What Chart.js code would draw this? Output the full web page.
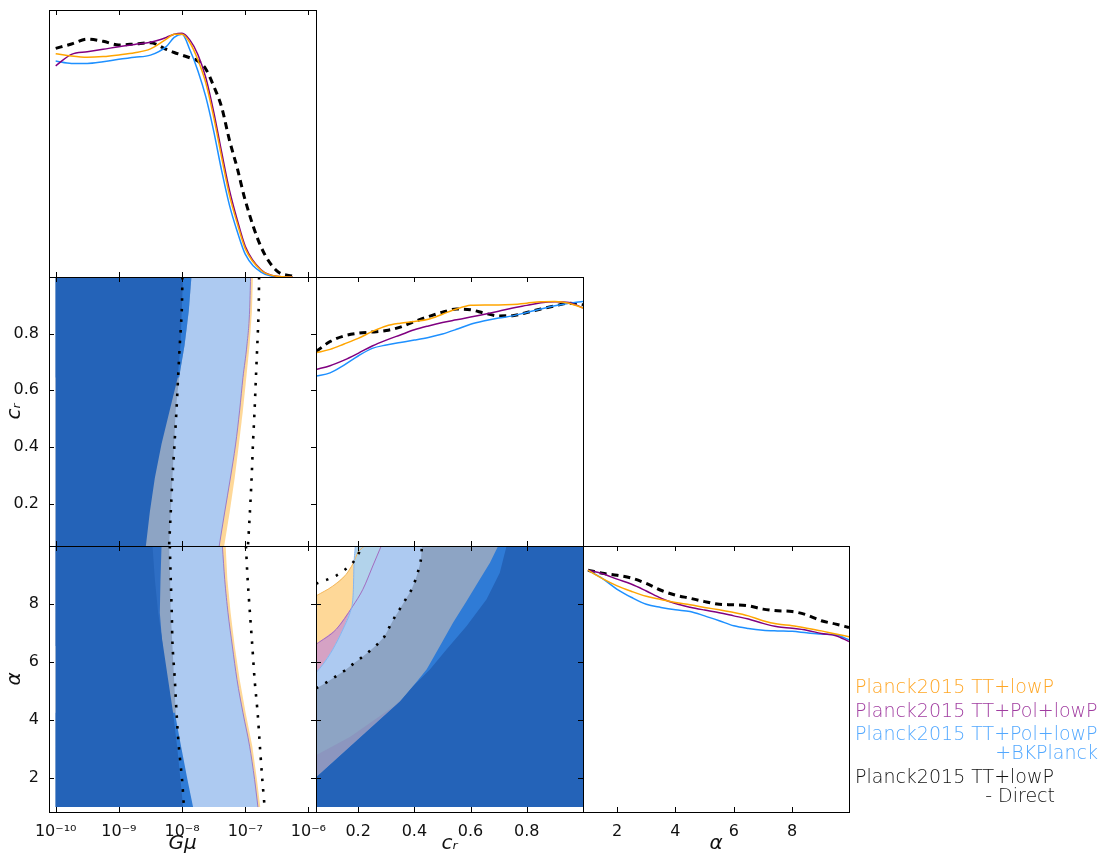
<!DOCTYPE html>
<html>
<head>
<meta charset="utf-8">
<script src="https://cdn.jsdelivr.net/npm/chart.js@4.4.1/dist/chart.umd.min.js"></script>
<style>
body { margin: 0; background: #fff; }
#wrap { position: relative; width: 1102px; height: 854px; overflow: hidden; }
#wrap canvas { position: absolute; }
.leg { position: absolute; font-family: "DejaVu Sans", sans-serif; font-weight: 200; font-size: 19px; line-height: 22px; white-space: nowrap; }
</style>
</head>
<body>
<div id="wrap">
  <canvas id="p11"></canvas>
  <canvas id="p21"></canvas>
  <canvas id="p31"></canvas>
  <canvas id="p22"></canvas>
  <canvas id="p32"></canvas>
  <canvas id="p33"></canvas>
  <div class="leg" style="left:855px;top:675px;color:#ffa624">Planck2015 TT+lowP</div>
  <div class="leg" style="left:855px;top:699px;color:#a03ca0">Planck2015 TT+Pol+lowP</div>
  <div class="leg" style="left:855px;top:722px;color:#52a8ff">Planck2015 TT+Pol+lowP</div>
  <div class="leg" style="right:4px;top:741px;color:#52a8ff">+BKPlanck</div>
  <div class="leg" style="left:855px;top:765px;color:#111">Planck2015 TT+lowP</div>
  <div class="leg" style="right:47px;top:784px;color:#111">- Direct</div>
</div>
<script>
// ---- tick labels ----
const gmuTicks = [-10, -9, -8, -7, -6];
const gmuTickLabels = ['10⁻¹⁰', '10⁻⁹', '10⁻⁸', '10⁻⁷', '10⁻⁶'];
const crTicks = [0.2, 0.4, 0.6, 0.8];
const alphaTicks = [2, 4, 6, 8];

// ---- 1D marginals (log10 Gmu) ----
const gmuGrid = [-10, -9.75, -9.5, -9.25, -9, -8.75, -8.5, -8.25, -8.125, -8, -7.875, -7.75, -7.625, -7.5, -7.375, -7.25, -7.125, -7, -6.75, -6.5, -6.25];
const gmuTT = [0.92, 0.91, 0.905, 0.908, 0.915, 0.924, 0.94, 0.98, 1.0, 1.0, 0.965, 0.895, 0.80, 0.66, 0.495, 0.337, 0.22, 0.117, 0.028, 0.003, 0];
const gmuPol = [0.87, 0.917, 0.928, 0.938, 0.949, 0.958, 0.967, 0.987, 1.0, 1.004, 0.976, 0.917, 0.822, 0.681, 0.516, 0.358, 0.234, 0.127, 0.03, 0.003, 0];
const gmuBK = [0.89, 0.88, 0.88, 0.887, 0.897, 0.905, 0.914, 0.949, 0.987, 1.0, 0.935, 0.85, 0.743, 0.602, 0.44, 0.296, 0.186, 0.094, 0.02, 0.001, 0];
const gmuDirect = [0.942, 0.96, 0.98, 0.971, 0.956, 0.96, 0.965, 0.938, 0.925, 0.914, 0.903, 0.89, 0.857, 0.787, 0.701, 0.564, 0.447, 0.316, 0.124, 0.025, 0.003];

// ---- 1D marginals (c_r) ----
const crGrid = [0.05, 0.1, 0.15, 0.2, 0.25, 0.3, 0.35, 0.4, 0.45, 0.5, 0.55, 0.6, 0.65, 0.7, 0.75, 0.8, 0.85, 0.9, 0.95, 1.0];
const crTT = [0.790, 0.804, 0.826, 0.849, 0.877, 0.900, 0.911, 0.918, 0.927, 0.948, 0.969, 0.984, 0.986, 0.986, 0.988, 0.993, 0.999, 1.0, 0.993, 0.973];
const crPol = [0.722, 0.737, 0.760, 0.788, 0.818, 0.842, 0.863, 0.884, 0.900, 0.914, 0.925, 0.936, 0.948, 0.960, 0.973, 0.984, 0.995, 0.999, 0.996, 0.973];
const crBK = [0.695, 0.708, 0.740, 0.777, 0.808, 0.822, 0.832, 0.842, 0.853, 0.867, 0.886, 0.907, 0.921, 0.932, 0.941, 0.955, 0.969, 0.982, 0.993, 1.0];
const crDirect = [0.795, 0.836, 0.859, 0.870, 0.875, 0.881, 0.895, 0.918, 0.938, 0.956, 0.969, 0.966, 0.952, 0.941, 0.942, 0.955, 0.969, 0.982, 0.993, 0.986];

// ---- 1D marginals (alpha) ----
const alphaGrid = [1, 1.5, 2, 2.5, 3, 3.5, 4, 4.5, 5, 5.5, 6, 6.5, 7, 7.5, 8, 8.5, 9, 9.5, 9.95];
const alphaTT = [1.0, 0.965, 0.935, 0.912, 0.892, 0.879, 0.866, 0.857, 0.846, 0.836, 0.825, 0.811, 0.791, 0.777, 0.770, 0.760, 0.749, 0.736, 0.725];
const alphaPol = [1.0, 0.985, 0.963, 0.942, 0.914, 0.884, 0.862, 0.847, 0.835, 0.824, 0.811, 0.798, 0.780, 0.766, 0.760, 0.752, 0.738, 0.729, 0.705];
const alphaBK = [1.0, 0.965, 0.921, 0.887, 0.859, 0.846, 0.836, 0.829, 0.811, 0.791, 0.770, 0.759, 0.752, 0.749, 0.747, 0.741, 0.736, 0.733, 0.712];
const alphaDirect = [1.0, 0.987, 0.979, 0.967, 0.945, 0.917, 0.897, 0.884, 0.870, 0.859, 0.857, 0.853, 0.839, 0.832, 0.829, 0.815, 0.791, 0.777, 0.763];

// ---- Gmu vs c_r contours: log10 Gmu of each edge at crLevels ----
const crLevels = [1.0, 0.88, 0.76, 0.645, 0.53, 0.41, 0.29, 0.17, 0.05];
const gcTT95 = [-6.878, -6.894, -6.931, -6.983, -7.036, -7.100, -7.167, -7.246, -7.333];
const gcBK95 = [-6.915, -6.931, -6.973, -7.036, -7.088, -7.152, -7.235, -7.325, -7.412];
const gcMix = [-7.852, -7.894, -7.960, -8.047, -8.100, -8.126, -8.152, -8.179, -8.205];
const gcBK68 = [-7.852, -7.894, -7.960, -8.047];
const gcTT68 = [-7.984, -8.005, -8.025, -8.068, -8.194, -8.325, -8.431, -8.510, -8.573];
const gcDir68 = [-7.994, -8.005, -8.036, -8.063, -8.088, -8.120, -8.152, -8.179, -8.205];
const gcDir95 = [-6.781, -6.788, -6.809, -6.831, -6.852, -6.878, -6.899, -6.926, -6.957];

// ---- Gmu vs alpha contours ----
const alphaLevels = [10, 8.85, 7.70, 6.55, 5.40, 4.25, 3.10, 1.95, 1.0];
const gaTT95 = [-7.310, -7.283, -7.231, -7.167, -7.088, -6.994, -6.888, -6.815, -6.762];
const gaBK95 = [-7.362, -7.325, -7.273, -7.204, -7.131, -7.036, -6.931, -6.852, -6.799];
const gaMix = [-8.205, -8.189, -8.179, -8.152, -8.126, -8.100, -8.073, -8.021, -7.980];
const gaMid = [-8.325, -8.341, -8.352, -8.310];          // top 4 levels
const gaBK68 = [-8.115, -8.016, -7.915, -7.826];         // bottom 4 levels
const gaTT68 = [-8.468, -8.431, -8.379, -8.300, -8.221, -8.142, -8.079, -8.025, -7.984];
const gaDir68 = [-8.194, -8.179, -8.163, -8.150, -8.115, -8.087, -8.052, -8.000, -7.970];
const gaDir95 = [-6.989, -6.962, -6.926, -6.888, -6.852, -6.804, -6.768, -6.730, -6.693];

// ---- c_r vs alpha contours (c_r, alpha pairs) ----
const caTT95_cr = [0.05, 0.110, 0.157, 0.183, 0.199, 0.222];
const caTT95_a = [8.28, 8.62, 9.02, 9.42, 9.77, 10];
const caPol95_cr = [0.05, 0.122, 0.181, 0.217, 0.252, 0.282];
const caPol95_a = [6.61, 7.13, 7.93, 8.51, 9.31, 10];
const caBK95_cr = [0.05, 0.075, 0.110, 0.146, 0.175, 0.179, 0.183, 0.185, 0.190];
const caBK95_a = [5.63, 5.92, 6.44, 7.13, 7.82, 7.99, 8.51, 9.31, 10];
const caJoint_cr = [0.05, 0.075, 0.110, 0.146, 0.177, 0.217, 0.252, 0.282];
const caJoint_a = [5.63, 5.92, 6.44, 7.13, 7.88, 8.51, 9.31, 10];
const caDir68_cr = [0.05, 0.086, 0.118, 0.150, 0.180, 0.210, 0.240, 0.268, 0.293, 0.311, 0.329, 0.349, 0.369, 0.388, 0.403, 0.414, 0.423, 0.426, 0.427];
const caDir68_a = [5.09, 5.29, 5.49, 5.69, 5.92, 6.14, 6.37, 6.61, 6.87, 7.20, 7.53, 7.84, 8.16, 8.46, 8.81, 9.15, 9.52, 9.86, 10];
const caSlate_cr = [0.05, 0.172, 0.325, 0.42];
const caSlate_a = [2.79, 3.42, 4.46, 5.27];
const caMix68_cr = [0.05, 0.349, 0.396, 0.444, 0.491, 0.538, 0.586, 0.633, 0.669, 0.698];
const caMix68_a = [2.02, 4.64, 5.17, 5.75, 6.55, 7.36, 8.10, 8.85, 9.42, 10];
const caTT68_cr = [0.05, 0.349, 0.396, 0.432, 0.456, 0.515, 0.586, 0.657, 0.704, 0.728];
const caTT68_a = [2.02, 4.64, 5.17, 5.52, 5.75, 6.44, 7.24, 8.16, 9.08, 10];
const caDir95_cr = [0.05, 0.092, 0.124, 0.155, 0.183, 0.203, 0.211];
const caDir95_a = [8.70, 8.85, 8.99, 9.20, 9.45, 9.77, 10];

// sampled ranges
const GMU_LO = -10, CR_LO = 0.05, CR_HI = 1.0, A_LO = 1.0, A_HI = 10;

// colours
const cOrange = '#ffa500', cPurple = '#800080', cBlue = '#1e90ff';
const fDark = '#2463b8', fBright = '#2f7bd6', fMid = '#2e6ec4', fGray = '#8da4c4', fSlate = '#8c96bf';
const fLight = '#adcaf1', fTeal = '#b2d3eb', fOrange = '#fed898', fPink = '#d5a2c4';

// ---------------------------------------------------------------
const inTicks = {
    id: 'inTicks',
    afterDraw(chart, args, opts) {
        const {ctx, chartArea: a, scales} = chart;
        ctx.save();
        ctx.strokeStyle = '#000';
        ctx.lineWidth = 1;
        ctx.beginPath();
        (opts.x || []).forEach(v => {
            const p = Math.round(scales.x.getPixelForValue(v)) + 0.5;
            ctx.moveTo(p, a.bottom); ctx.lineTo(p, a.bottom - 5);
            ctx.moveTo(p, a.top); ctx.lineTo(p, a.top + 5);
        });
        (opts.y || []).forEach(v => {
            const p = Math.round(scales.y.getPixelForValue(v)) + 0.5;
            ctx.moveTo(a.left, p); ctx.lineTo(a.left + 5, p);
            ctx.moveTo(a.right, p); ctx.lineTo(a.right - 5, p);
        });
        ctx.stroke();
        ctx.strokeRect(Math.round(a.left) + 0.5, Math.round(a.top) + 0.5, Math.round(a.width), Math.round(a.height));
        ctx.restore();
    }
};

const tickFont = { family: 'DejaVu Sans', size: 16 };
const titleFont = { family: 'DejaVu Sans', size: 20, style: 'italic', lineHeight: 1.0 };

function axis(min, max, ticks, labelFn, title) {
    const o = { type: 'linear', min: min, max: max, grid: { display: false }, border: { display: false } };
    if (labelFn) {
        o.afterBuildTicks = s => { s.ticks = ticks.map(v => ({ value: v })); };
        o.ticks = { display: true, color: '#111', font: tickFont, padding: 2, maxRotation: 0, autoSkip: false, callback: labelFn };
    } else {
        o.ticks = { display: false };
    }
    if (title) {
        o.title = { display: true, text: title, color: '#111', font: titleFont, padding: { top: 5, bottom: 0 } };
    }
    return o;
}

const gmuLabel = v => gmuTickLabels[gmuTicks.indexOf(v)];
const numLabel = v => (Number.isInteger(v) ? String(v) : v.toFixed(1));

function pts(xs, ys) { return xs.map((x, i) => ({ x: x, y: ys[i] })); }
function leftOf(edge, levels) {
    const p = pts(edge, levels);
    p.push({ x: GMU_LO, y: levels[levels.length - 1] }, { x: GMU_LO, y: levels[0] });
    return p;
}
function rightOf(crs, as, toTop) {
    const p = pts(crs, as);
    if (toTop) p.push({ x: CR_HI, y: A_HI });
    p.push({ x: CR_HI, y: A_LO }, { x: CR_LO, y: A_LO });
    return p;
}
function area(data, color) {
    return { data: data, fill: 'shape', backgroundColor: color, borderColor: 'rgba(0,0,0,0)', borderWidth: 0, pointRadius: 0, tension: 0 };
}
function curve(data, color, width, dash) {
    return { data: data, fill: false, borderColor: color, borderWidth: width, borderDash: dash || [], borderCapStyle: 'butt',
        pointRadius: 0, cubicInterpolationMode: 'monotone' };
}
function dotted(data) {
    return { data: data, fill: false, borderColor: '#000', borderWidth: 2.6, borderDash: [2.6, 8], borderCapStyle: 'butt', pointRadius: 0, tension: 0.3 };
}

function makeChart(id, pos, pad, xs, ys, datasets, tickVals) {
    const cv = document.getElementById(id);
    cv.width = pos[2]; cv.height = pos[3];
    cv.style.left = pos[0] + 'px'; cv.style.top = pos[1] + 'px';
    datasets.forEach((d, i) => { d.order = datasets.length - i; });
    xs.afterFit = s => { s.height = pad.bottom; };
    ys.afterFit = s => { s.width = pad.left; };
    ys.position = 'left';
    xs.position = 'bottom';
    return new Chart(cv, {
        type: 'line',
        data: { datasets: datasets },
        options: {
            responsive: false, animation: false, devicePixelRatio: 1,
            layout: { padding: { left: 0, top: pad.top, right: pad.right, bottom: 0 } },
            plugins: { legend: { display: false }, tooltip: { enabled: false }, inTicks: tickVals },
            scales: { x: xs, y: ys }
        },
        plugins: [inTicks]
    });
}

// Gmu marginal
makeChart('p11', [0, 0, 336, 297], { left: 49, top: 10, right: 20, bottom: 20 },
    axis(-10.106, -5.88), axis(0, 1.1),
    [curve(pts(gmuGrid, gmuTT), cOrange, 1.5), curve(pts(gmuGrid, gmuPol), cPurple, 1.5),
     curve(pts(gmuGrid, gmuBK), cBlue, 1.5), curve(pts(gmuGrid, gmuDirect), '#000', 3, [7, 5])].reverse(),
    { x: gmuTicks });

// Gmu vs c_r
makeChart('p21', [0, 257, 336, 309], { left: 49, top: 20, right: 20, bottom: 20 },
    axis(-10.106, -5.88), axis(0.05, 1.0, crTicks, numLabel, 'cᵣ'),
    [area(leftOf(gcTT95, crLevels), fOrange), area(leftOf(gcBK95, crLevels), fLight),
     area(leftOf(gcMix, crLevels), fGray), area(leftOf(gcBK68, crLevels.slice(0, 4)), fBright),
     area(leftOf(gcTT68, crLevels), fDark),
     curve(pts(gcBK95, crLevels), '#9b7cc8', 1),
     dotted(pts(gcDir68, crLevels)), dotted(pts(gcDir95, crLevels))],
    { x: gmuTicks, y: crTicks });

// Gmu vs alpha
makeChart('p31', [0, 526, 336, 328], { left: 49, top: 20, right: 20, bottom: 42 },
    axis(-10.106, -5.88, gmuTicks, gmuLabel, 'Gμ'), axis(0.83, 10, alphaTicks, numLabel, 'α'),
    [area(leftOf(gaTT95, alphaLevels), fOrange), area(leftOf(gaBK95, alphaLevels), fLight),
     area(leftOf(gaMix, alphaLevels), fGray), area(leftOf(gaMid, alphaLevels.slice(0, 4)), fMid),
     area(leftOf(gaBK68, alphaLevels.slice(5)), fBright), area(leftOf(gaTT68, alphaLevels), fDark),
     curve(pts(gaBK95, alphaLevels), '#9b7cc8', 1),
     dotted(pts(gaDir68, alphaLevels)), dotted(pts(gaDir95, alphaLevels))],
    { x: gmuTicks, y: alphaTicks });

// c_r marginal
makeChart('p22', [296, 257, 307, 309], { left: 20, top: 20, right: 20, bottom: 20 },
    axis(0.05, 1.0), axis(0, 1.1),
    [curve(pts(crGrid, crTT), cOrange, 1.5), curve(pts(crGrid, crPol), cPurple, 1.5),
     curve(pts(crGrid, crBK), cBlue, 1.5), curve(pts(crGrid, crDirect), '#000', 3, [7, 5])].reverse(),
    { x: crTicks });

// c_r vs alpha
makeChart('p32', [296, 526, 307, 328], { left: 20, top: 20, right: 20, bottom: 42 },
    axis(0.05, 1.0, crTicks, numLabel, 'cᵣ'), axis(0.83, 10),
    [area(rightOf(caTT95_cr, caTT95_a, true), fOrange), area(rightOf(caPol95_cr, caPol95_a, true), fPink),
     area(rightOf(caBK95_cr, caBK95_a, true), fTeal), area(rightOf(caJoint_cr, caJoint_a, true), fLight),
     area(rightOf(caDir68_cr, caDir68_a, true), fGray), area(rightOf(caSlate_cr, caSlate_a, false), fSlate),
     area(rightOf(caMix68_cr, caMix68_a, true), fBright), area(rightOf(caTT68_cr, caTT68_a, true), fDark),
     curve(pts(caTT95_cr, caTT95_a), '#f3b85e', 1), curve(pts(caPol95_cr, caPol95_a), '#a36cc0', 1),
     curve(pts(caBK95_cr, caBK95_a), '#86b6f0', 1),
     dotted(pts(caDir68_cr, caDir68_a)), dotted(pts(caDir95_cr, caDir95_a))],
    { x: crTicks, y: alphaTicks });

// alpha marginal
makeChart('p33', [563, 526, 306, 328], { left: 20, top: 20, right: 20, bottom: 42 },
    axis(0.83, 9.95, alphaTicks, numLabel, 'α'), axis(0, 1.1),
    [curve(pts(alphaGrid, alphaTT), cOrange, 1.5), curve(pts(alphaGrid, alphaPol), cPurple, 1.5),
     curve(pts(alphaGrid, alphaBK), cBlue, 1.5), curve(pts(alphaGrid, alphaDirect), '#000', 3, [7, 5])].reverse(),
    { x: alphaTicks });
</script>
</body>
</html>
